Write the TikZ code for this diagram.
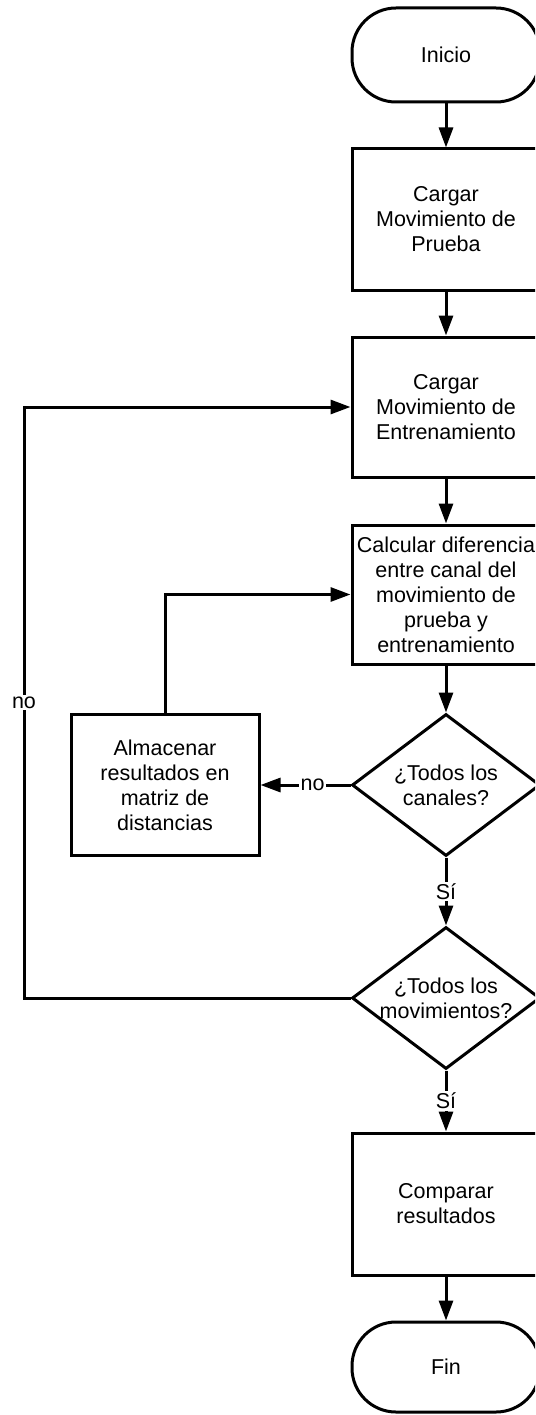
\documentclass[tikz,border=0pt]{standalone}
\usepackage{fontspec}
\setmainfont{Liberation Sans}
\usetikzlibrary{arrows.meta,shapes.geometric}
\begin{document}
\begin{tikzpicture}[x=1pt,y=-1pt,
  every node/.style={font=\fontsize{21.5}{25}\selectfont, align=center},
  box/.style={draw, line width=3pt, minimum width=188pt, minimum height=141pt, inner sep=0pt},
  term/.style={draw, line width=3pt, minimum width=188pt, minimum height=94pt, rounded corners=44pt, inner sep=0pt},
  dec/.style={draw, diamond, line width=3pt, minimum width=188pt, minimum height=142pt, inner sep=0pt},
  arr/.style={line width=3pt, -{Triangle[length=20pt,width=14pt]}},
  lbl/.style={fill=white, inner sep=1.5pt}
]
\clip (0,0) rectangle (535,1415);
\node[term] (ini) at (446,55) {Inicio};
\node[box] (b1) at (446,219.5) {Cargar\\Movimiento de\\Prueba};
\node[box, minimum height=140pt] (b2) at (446,407) {Cargar\\Movimiento de\\Entrenamiento};
\node[box, minimum height=139pt] (b3) at (446,594.5) {Calcular diferencia\\entre canal del\\movimiento de\\prueba y\\entrenamiento};
\node[dec] (d1) at (446,785) {};
\node (d1t) at (d1.center) {¿Todos los\\canales?};
\node[box] (alm) at (165,785) {Almacenar\\resultados en\\matriz de\\distancias};
\node[dec] (d2) at (446,998) {};
\node (d2t) at (d2.center) {¿Todos los\\movimientos?};
\node[box, minimum height=142pt] (cmp) at (446,1204) {Comparar\\resultados};
\node[term, minimum height=90pt] (fin) at (446,1367) {Fin};
\coordinate (lx) at (24,0);

\draw[arr] (ini) -- (b1);
\draw[arr] (b1) -- (b2);
\draw[arr] (b2) -- (b3);
\draw[arr] (b3) -- (d1);
\draw[arr] (d1.west) -- node[lbl, pos=0.42]{no} (alm.east);
\draw[arr] (alm.north) |- (b3.west);
\draw[arr] (d1) -- node[lbl]{Sí} (d2);
\draw[arr] (d2.west) -- (d2.west -| lx) -- node[lbl]{no} (b2.west -| lx) -- (b2.west);
\draw[arr] (d2) -- node[lbl]{Sí} (cmp);
\draw[arr] (cmp) -- (fin);
\end{tikzpicture}
\end{document}
